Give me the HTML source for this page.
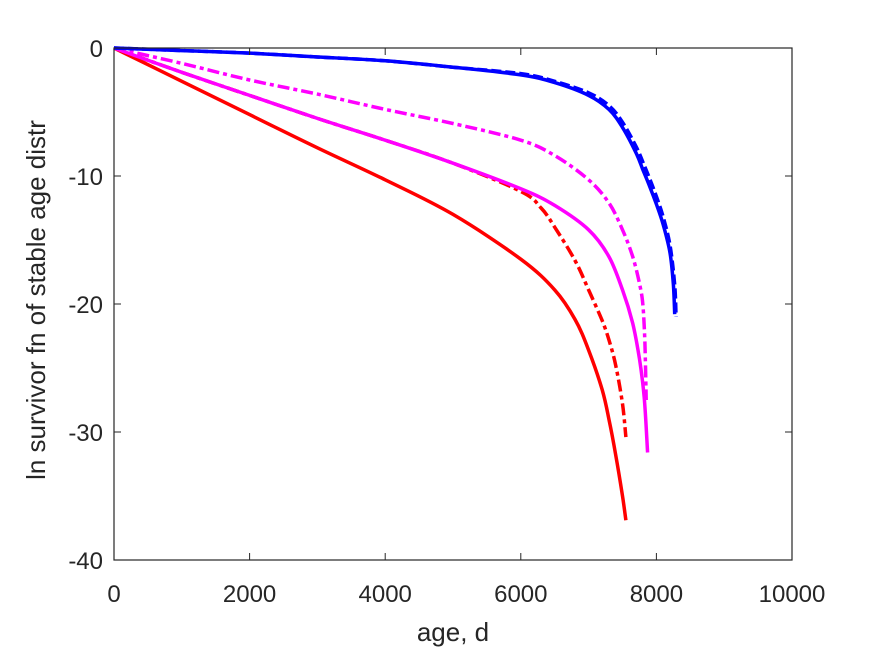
<!DOCTYPE html>
<html><head><meta charset="utf-8"><style>
body{margin:0;background:#fff;}
svg text{font-family:"Liberation Sans",sans-serif;fill:#262626;}
</style></head><body>
<svg id="chart" width="875" height="656" viewBox="0 0 875 656" xmlns="http://www.w3.org/2000/svg" style="position:absolute;left:0;top:0">
<rect width="875" height="656" fill="#fff"/>
<g id="series"></g>
<g id="axes"></g>
<text x="453" y="641" text-anchor="middle" font-size="26">age, d</text>
<text transform="translate(45,300) rotate(-90)" text-anchor="middle" font-size="26">ln survivor fn of stable age distr</text>
</svg>
<script>
const xTicks=[0,2000,4000,6000,8000,10000];
const yTicks=[0,-10,-20,-30,-40];
const blueX=[0,1000,2000,3000,4000,5000,6000,6500,7000,7300,7500,7700,7800,7900,8000,8100,8200,8250,8270];
const blueY=[0,-0.2,-0.4,-0.7,-1.0,-1.5,-2.1,-2.7,-3.7,-4.8,-6.2,-8.2,-9.5,-10.8,-12.2,-13.8,-16,-18.5,-20.8];
const blueDashX=[0,1000,2000,3000,4000,5000,6000,6500,7000,7300,7500,7700,7800,7900,8000,8100,8200,8270,8290];
const blueDashY=[0,-0.2,-0.4,-0.7,-1.0,-1.5,-2.0,-2.6,-3.5,-4.5,-5.8,-7.7,-8.9,-10.2,-11.6,-13.2,-15.4,-18.5,-21];
const magDDX=[0,1000,2000,3000,4000,5000,6000,6500,7000,7300,7500,7650,7750,7800,7830,7850];
const magDDY=[0,-1.2,-2.5,-3.6,-4.8,-5.9,-7.2,-8.4,-10.3,-12.1,-14.2,-16.3,-18.4,-20,-23,-27.5];
const magX=[0,1000,2000,3000,4000,5000,6000,6500,7000,7300,7500,7650,7750,7820,7870];
const magY=[0,-1.9,-3.7,-5.5,-7.2,-9.0,-11.0,-12.3,-14.2,-16.3,-18.9,-21.5,-24.3,-27.3,-31.6];
const redDDX=[0,1000,2000,3000,4000,5000,6000,6300,6500,6800,7000,7200,7300,7400,7500,7550];
const redDDY=[0,-1.9,-3.7,-5.5,-7.2,-9.0,-11.2,-12.5,-14.0,-16.6,-18.9,-21.3,-22.8,-24.8,-27.8,-30.4];
const redX=[0,1000,2000,3000,4000,5000,6000,6500,6800,7000,7200,7300,7400,7500,7550];
const redY=[0,-2.6,-5.2,-7.8,-10.3,-13.0,-16.5,-18.9,-21.2,-23.6,-26.7,-29,-31.8,-35,-36.9];
const X0=114,X1=792,Y0=48,Y1=560;
const sx=v=>X0+(v-0)/10000*(X1-X0);
const sy=v=>Y0+(0-v)/40*(Y1-Y0);
const NS="http://www.w3.org/2000/svg";
const series=document.getElementById('series'), axes=document.getElementById('axes');
function smoothPath(xs,ys){
  const P=xs.map((x,i)=>[sx(x),sy(ys[i])]);
  let d='M'+P[0][0].toFixed(1)+','+P[0][1].toFixed(1);
  for(let i=0;i<P.length-1;i++){
    const p0=P[Math.max(0,i-1)],p1=P[i],p2=P[i+1],p3=P[Math.min(P.length-1,i+2)];
    const c1=[p1[0]+(p2[0]-p0[0])/6,p1[1]+(p2[1]-p0[1])/6];
    const c2=[p2[0]-(p3[0]-p1[0])/6,p2[1]-(p3[1]-p1[1])/6];
    d+=`C${c1[0].toFixed(1)},${c1[1].toFixed(1)} ${c2[0].toFixed(1)},${c2[1].toFixed(1)} ${p2[0].toFixed(1)},${p2[1].toFixed(1)}`;
  }
  return d;
}
function line(xs,ys,color,dash,name){
  const p=document.createElementNS(NS,'path');
  
  
  p.setAttribute('d',smoothPath(xs,ys));
  p.setAttribute('fill','none');p.setAttribute('stroke',color);p.setAttribute('stroke-width','3.5');
  p.setAttribute('stroke-linejoin','round');
  if(dash)p.setAttribute('stroke-dasharray',dash);
  series.appendChild(p);
}
line(redX,redY,'#ff0000',null,'red-solid-line');
line(redDDX,redDDY,'#ff0000','12 4 4 4','red-dashdot-line');
line(magX,magY,'#ff00ff',null,'magenta-solid-line');
line(magDDX,magDDY,'#ff00ff','12 4 4 4','magenta-dashdot-line');
line(blueDashX,blueDashY,'#0000ff','10 4','blue-dashed-line');
line(blueX,blueY,'#0000ff',null,'blue-solid-line');
const box=document.createElementNS(NS,'rect');


box.setAttribute('x',X0);box.setAttribute('y',Y0);box.setAttribute('width',X1-X0);box.setAttribute('height',Y1-Y0);
box.setAttribute('fill','none');box.setAttribute('stroke','#262626');box.setAttribute('stroke-width','1.2');
axes.appendChild(box);
xTicks.forEach(t=>{
  const x=sx(t);
  const l=document.createElementNS(NS,'path');
  
  
  l.setAttribute('d',`M${x},${Y1}v-7M${x},${Y0}v7`);l.setAttribute('stroke','#262626');
  axes.appendChild(l);
  const tx=document.createElementNS(NS,'text');
  
  
  tx.setAttribute('x',x);tx.setAttribute('y',602);tx.setAttribute('text-anchor','middle');tx.setAttribute('font-size','24');
  tx.textContent=t;axes.appendChild(tx);
});
yTicks.forEach(t=>{
  const y=sy(t);
  const l=document.createElementNS(NS,'path');
  
  
  l.setAttribute('d',`M${X0},${y}h7M${X1},${y}h-7`);l.setAttribute('stroke','#262626');
  axes.appendChild(l);
  const tx=document.createElementNS(NS,'text');
  
  
  tx.setAttribute('x',103);tx.setAttribute('y',y+9);tx.setAttribute('text-anchor','end');tx.setAttribute('font-size','24');
  tx.textContent=t;axes.appendChild(tx);
});
</script>
</body></html>
